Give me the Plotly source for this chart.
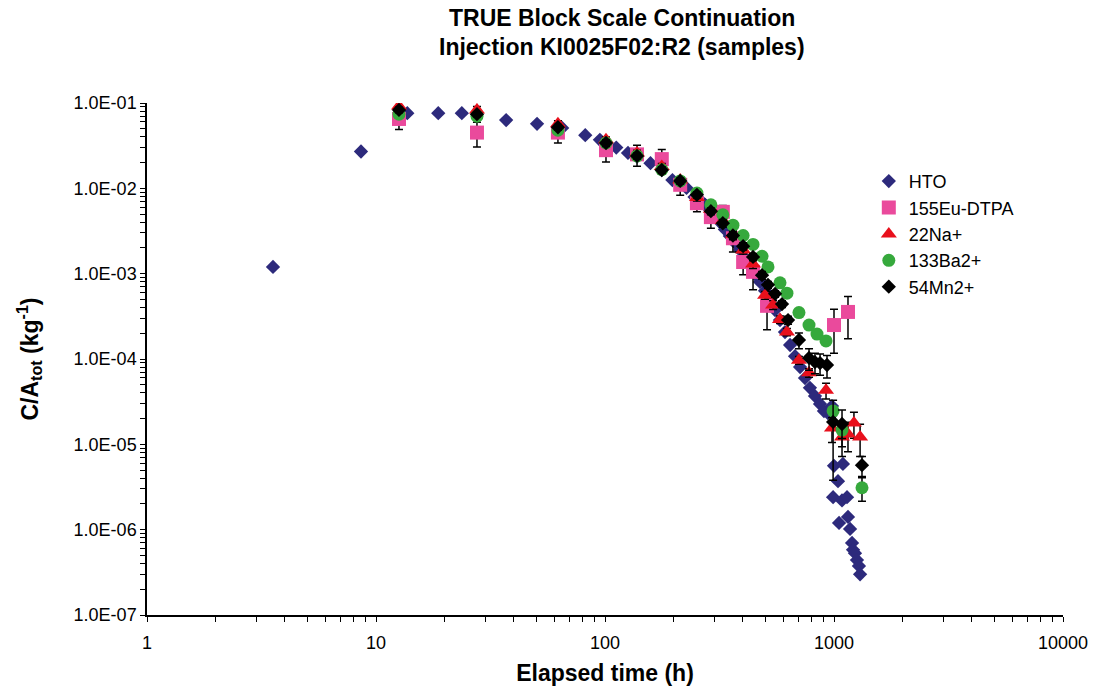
import plotly.graph_objects as go

# ---------------- data ----------------
hto_t = [3.55, 8.6, 13.7, 18.7, 23.7, 37, 50.5, 65, 82, 95, 112, 126, 138, 158, 177, 197, 227,
         246, 260, 274, 287, 302, 318, 334, 351, 370, 389, 409, 430, 452, 475, 500, 526, 553,
         581, 611, 643, 676, 711, 747, 785, 826, 869, 904, 940, 980,
         1000, 1094, 1041, 991, 1084, 1140, 1052, 1151, 1175, 1199, 1211, 1235, 1260, 1285, 1300]
hto_c = [1.2e-3, 0.027, 0.076, 0.076, 0.076, 0.063, 0.057, 0.051, 0.042, 0.037, 0.030, 0.026, 0.0235, 0.0197, 0.0164, 0.0125, 0.0101,
         0.0079, 0.0073, 0.0064, 0.0056, 0.0047, 0.0040, 0.0033, 0.00276, 0.00229, 0.00189, 0.00153, 0.00123, 0.00099, 0.00080, 0.00063, 0.00049, 0.000375,
         0.000286, 0.000207, 0.000146, 0.000108, 8.05e-5, 5.98e-5, 4.6e-5, 3.68e-5, 2.97e-5, 2.45e-5, 2.33e-5, 2.81e-5,
         5.6e-6, 5.9e-6, 3.7e-6, 2.4e-6, 2.2e-6, 2.4e-6, 1.2e-6, 1.41e-6, 1.02e-6, 7.0e-7, 5.8e-7, 5.3e-7, 4.4e-7, 3.75e-7, 3.0e-7]

eu_t = [12.6, 27.6, 62.3, 101, 138, 177, 213, 252, 290, 327, 362, 401, 443, 510, 1000, 1151]
eu_c = [0.065, 0.045, 0.045, 0.028, 0.025, 0.022, 0.011, 0.0067, 0.0046, 0.0053, 0.0026, 0.00137, 0.00105, 0.00042, 0.00025, 0.000356]
eu_e = [0.016, 0.0145, 0.011, 0.0076, 0.0069, 0.0066, 0.0027, 0.0014, 0.0012, 0.0010, 0.0008, 0.0004, 0.0004, 0.0002, 0.000133, 0.000183]

na_t = [12.6, 27.6, 62.3, 101, 138, 177, 213, 252, 290, 327, 362, 401, 443, 500, 542, 581, 623, 703, 778, 923, 980, 1084, 1151, 1222, 1300]
na_c = [0.092, 0.083, 0.057, 0.037, 0.026, 0.018, 0.0125, 0.0078, 0.0057, 0.0042, 0.0029, 0.0019, 0.0013, 0.00056, 0.00043, 0.00029, 0.000207, 9.7e-5, 6.9e-5, 4.3e-5, 1.55e-5, 1.22e-5, 1.32e-5, 1.78e-5, 1.22e-5]
na_e = [0.01, 0.008, 0.005, 0.003, 0.002, 0.0015, 0.001, 0.0007, 0.0005, 0.0004, 0.0003, 0.0002, 0.00015, 6e-5, 5e-5, 3e-5, 2e-5, 1e-5, 8e-6, 9e-6, 5e-6, 5e-6, 5e-6, 6e-6, 5e-6]

ba_t = [12.6, 27.6, 62.3, 101, 138, 177, 213, 252, 290, 327, 362, 401, 443, 485, 515, 581, 623, 703, 778, 843, 923, 991, 1084, 1325]
ba_c = [0.074, 0.070, 0.048, 0.034, 0.024, 0.0165, 0.0122, 0.0088, 0.0064, 0.0049, 0.0037, 0.0028, 0.0022, 0.0016, 0.0012, 0.00078, 0.00059, 0.00035, 0.00025, 0.000196, 0.000163, 2.46e-5, 1.47e-5, 3.1e-6]
ba_e = [0.004, 0.004, 0.003, 0.002, 0.0015, 0.001, 0.0008, 0.0005, 0.0004, 0.0003, 0.0002, 0.00015, 0.0001, 8e-5, 6e-5, 4e-5, 3e-5, 2e-5, 1.5e-5, 1e-5, 1e-5, 3e-6, 3e-6, 9.5e-7]

mn_t = [12.6, 27.6, 62.3, 101, 138, 177, 213, 252, 290, 327, 362, 401, 443, 485, 515, 553, 593, 630, 703, 778, 826, 869, 932, 991, 1084, 1325]
mn_c = [0.083, 0.074, 0.052, 0.034, 0.024, 0.0164, 0.0122, 0.0084, 0.0054, 0.0039, 0.0028, 0.0021, 0.00157, 0.00096, 0.00074, 0.00058, 0.00044, 0.000286, 0.000167, 0.000103, 9.2e-5, 8.97e-5, 8.5e-5, 1.83e-5, 1.73e-5, 5.7e-6]
mn_e = [0.006, 0.005, 0.004, 0.003, 0.002, 0.0015, 0.001, 0.0007, 0.0005, 0.0004, 0.0003, 0.0002, 0.00015, 0.0001, 7e-5, 5e-5, 4e-5, 3e-5, 3.5e-5, 2.9e-5, 2.5e-5, 2.5e-5, 2.5e-5, 1.45e-5, 7.9e-6, 1.5e-6]

x_tickvals = [1, 10, 100, 1000, 10000]
x_ticktext = ["1", "10", "100", "1000", "10000"]
y_tickvals = [1e-7, 1e-6, 1e-5, 1e-4, 1e-3, 1e-2, 1e-1]
y_ticktext = ["1.0E-07", "1.0E-06", "1.0E-05", "1.0E-04", "1.0E-03", "1.0E-02", "1.0E-01"]

title_lines = ["TRUE Block Scale Continuation", "Injection KI0025F02:R2 (samples)"]

FONT = "Arial, 'Liberation Sans', sans-serif"

def err(arr):
    return dict(type="data", array=arr, visible=True, color="black", thickness=1.5, width=4)

fig = go.Figure()
fig.add_trace(go.Scatter(x=hto_t, y=hto_c, mode="markers", name="HTO",
                         marker=dict(symbol="diamond", size=11, color="#2d2a7c")))
fig.add_trace(go.Scatter(x=eu_t, y=eu_c, mode="markers", name="155Eu-DTPA", error_y=err(eu_e),
                         marker=dict(symbol="square", size=14, color="#ea4a9c")))
fig.add_trace(go.Scatter(x=na_t, y=na_c, mode="markers", name="22Na+", error_y=err(na_e),
                         marker=dict(symbol="triangle-up", size=14, color="#e8101c")))
fig.add_trace(go.Scatter(x=ba_t, y=ba_c, mode="markers", name="133Ba2+", error_y=err(ba_e),
                         marker=dict(symbol="circle", size=13, color="#36a93c")))
fig.add_trace(go.Scatter(x=mn_t, y=mn_c, mode="markers", name="54Mn2+", error_y=err(mn_e),
                         marker=dict(symbol="diamond", size=11, color="black")))

axis_common = dict(showline=True, linecolor="black", linewidth=1.5, showgrid=False, zeroline=False,
                   ticks="outside", ticklen=5, tickwidth=1.2, tickcolor="black", automargin=False,
                   tickfont=dict(family=FONT, size=18, color="black"),
                   minor=dict(ticks="outside", ticklen=5, tickwidth=1.2, tickcolor="black",
                              dtick="D1", showgrid=False))

fig.update_xaxes(type="log", range=[0, 4], tickvals=x_tickvals, ticktext=x_ticktext,
                 ticklabelstandoff=6,
                 title=dict(text="<b>Elapsed time (h)</b>", font=dict(family=FONT, size=23, color="black"),
                            standoff=13),
                 **axis_common)
fig.update_yaxes(type="log", range=[-7, -1], tickvals=y_tickvals, ticktext=y_ticktext,
                 title=dict(text="<b>C/A<sub>tot</sub> (kg<sup>-1</sup>)</b>",
                            font=dict(family=FONT, size=23, color="black"), standoff=29),
                 **axis_common)

for i, (line, ypx) in enumerate(zip(title_lines, [18, 47])):
    fig.add_annotation(text="<b>" + line + "</b>", xref="paper", yref="paper",
                       x=(622 - 147) / 916, y=(615 - ypx) / 512, xanchor="center", yanchor="middle",
                       showarrow=False, font=dict(family=FONT, size=23, color="black"))

fig.update_layout(
    width=1099, height=691,
    margin=dict(l=147, r=36, t=103, b=76),
    paper_bgcolor="white", plot_bgcolor="white",
    font=dict(family=FONT, color="black"),
    legend=dict(x=0.788, y=0.883, xanchor="left", yanchor="top", bgcolor="rgba(0,0,0,0)",
                font=dict(family=FONT, size=18, color="black"), itemwidth=30),
    showlegend=True,
)

fig.write_html("out.html")
